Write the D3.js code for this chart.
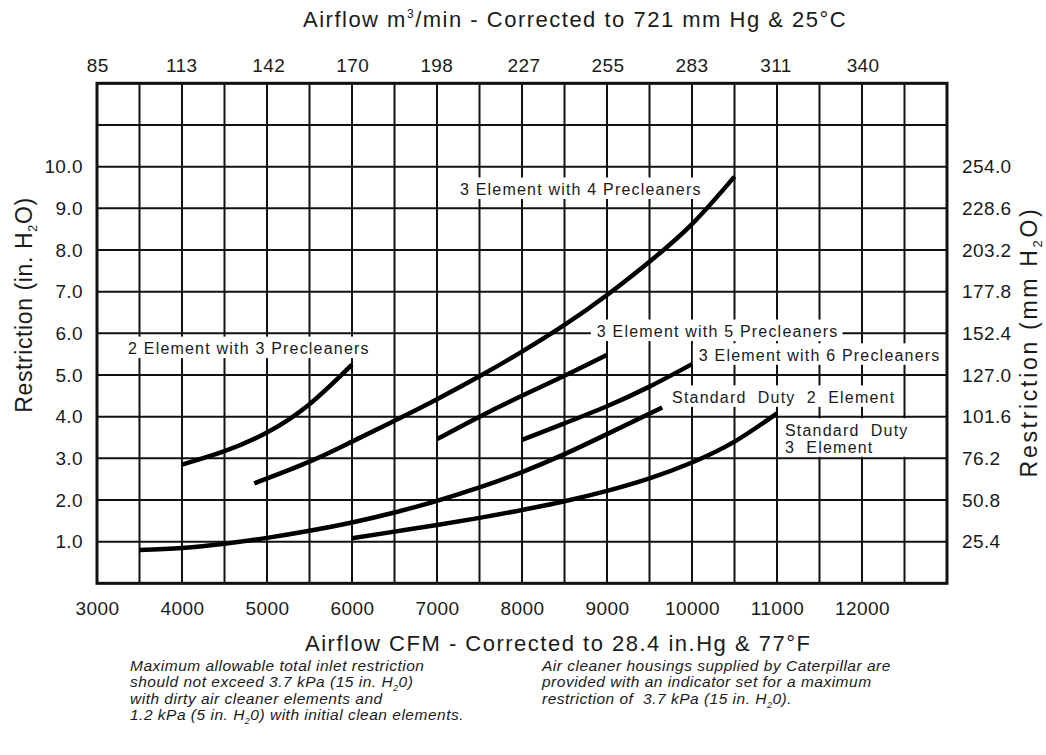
<!DOCTYPE html>
<html>
<head>
<meta charset="utf-8">
<script src="https://cdn.jsdelivr.net/npm/d3@7"></script>
<style>
    body { margin: 0; background: #fff; }
    svg text { font-family: Arial, "Liberation Sans", sans-serif; fill: #1a1a1a; }
</style>
</head>
<body>
<div id="chart"></div>
<script>
// tick labels
const cfmTicks = [3000, 4000, 5000, 6000, 7000, 8000, 9000, 10000, 11000, 12000];
const m3Ticks = [85, 113, 142, 170, 198, 227, 255, 283, 311, 340];
const inTicks = [1, 2, 3, 4, 5, 6, 7, 8, 9, 10];
const mmTicks = [25.4, 50.8, 76.2, 101.6, 127.0, 152.4, 177.8, 203.2, 228.6, 254.0];

// curves: airflow (CFM) / restriction (in. H2O)
const cfm2El3Pre = [4000, 4500, 5000, 5500, 6000];
const in2El3Pre = [2.85, 3.17, 3.62, 4.30, 5.25];

const cfm3El4Pre = [4850, 5500, 6000, 6500, 7000, 7500, 8000, 8500, 9000, 9500, 10000, 10500];
const in3El4Pre = [2.4, 2.92, 3.40, 3.90, 4.42, 4.97, 5.56, 6.20, 6.92, 7.72, 8.62, 9.76];

const cfm3El5Pre = [7000, 7500, 8000, 8500, 9000];
const in3El5Pre = [3.46, 4.0, 4.5, 4.98, 5.48];

const cfm3El6Pre = [8000, 8500, 9000, 9500, 10000];
const in3El6Pre = [3.44, 3.84, 4.25, 4.72, 5.26];

const cfmStd2El = [3500, 4000, 4500, 5000, 5500, 6000, 6500, 7000, 7500, 8000, 8500, 9000, 9650];
const inStd2El = [0.80, 0.85, 0.95, 1.09, 1.26, 1.46, 1.70, 1.98, 2.30, 2.67, 3.10, 3.58, 4.22];

const cfmStd3El = [6000, 6500, 7000, 7500, 8000, 8500, 9000, 9500, 10000, 10500, 11000];
const inStd3El = [1.08, 1.24, 1.40, 1.57, 1.76, 1.97, 2.22, 2.52, 2.90, 3.40, 4.08];

const series = [
    { cfm: cfm2El3Pre, restr: in2El3Pre },
    { cfm: cfm3El4Pre, restr: in3El4Pre },
    { cfm: cfm3El5Pre, restr: in3El5Pre },
    { cfm: cfm3El6Pre, restr: in3El6Pre },
    { cfm: cfmStd2El, restr: inStd2El },
    { cfm: cfmStd3El, restr: inStd3El }
];

// curve labels, placed in chart units (left edge of text, baseline)
const curveLabels = [
    { lines: ["3 Element with 4 Precleaners"], cfm: 7270, restr: 9.32 },
    { lines: ["2 Element with 3 Precleaners"], cfm: 3365, restr: 5.50 },
    { lines: ["3 Element with 5 Precleaners"], cfm: 8880, restr: 5.91 },
    { lines: ["3 Element with 6 Precleaners"], cfm: 10080, restr: 5.34 },
    { lines: ["Standard  Duty  2  Element"], cfm: 9765, restr: 4.33 },
    { lines: ["Standard  Duty", "3  Element"], cfm: 11094, restr: 3.54 }
];

const CFM_TO_M3 = 0.0283168;
const IN_TO_MM = 25.4;

function drawChart() {
    const width = 1046;
    const height = 755;
    const margin = { top: 83, bottom: 172, left: 97, right: 99 };

    const svg = d3.select("#chart")
        .append("svg")
        .attr("width", width)
        .attr("height", height);

    svg.append("rect")
        .attr("width", width)
        .attr("height", height)
        .attr("fill", "#fff");

    const x = d3.scaleLinear()
        .domain([3000, 13000])
        .range([margin.left, width - margin.right]);

    const xM3 = d3.scaleLinear()
        .domain([3000 * CFM_TO_M3, 13000 * CFM_TO_M3])
        .range([margin.left, width - margin.right]);

    const y = d3.scaleLinear()
        .domain([0, 12])
        .range([height - margin.bottom + 0.3, margin.top + 0.3]);

    const yMM = d3.scaleLinear()
        .domain([0, 12 * IN_TO_MM])
        .range(y.range());

    // grid
    const grid = svg.append("g").attr("stroke", "#111").attr("stroke-width", 2);
    grid.selectAll(".vline")
        .data(d3.range(3000, 13001, 500))
        .enter().append("line")
        .attr("x1", d => x(d)).attr("x2", d => x(d))
        .attr("y1", y(0)).attr("y2", y(12));
    grid.selectAll(".hline")
        .data(d3.range(0, 12.5, 1))
        .enter().append("line")
        .attr("x1", x(3000)).attr("x2", x(13000))
        .attr("y1", d => y(d)).attr("y2", d => y(d));

    const boxLayer = svg.append("g");
    const curveLayer = svg.append("g");

    svg.append("rect")
        .attr("x", x(3000))
        .attr("y", y(12))
        .attr("width", x(13000) - x(3000))
        .attr("height", y(0) - y(12))
        .attr("fill", "none")
        .attr("stroke", "#111")
        .attr("stroke-width", 3);

    const line = d3.line()
        .x(d => x(d[0]))
        .y(d => y(d[1]))
        .curve(d3.curveNatural);

    curveLayer.selectAll("path")
        .data(series)
        .enter().append("path")
        .attr("d", s => line(s.cfm.map((c, i) => [c, s.restr[i]])))
        .attr("fill", "none")
        .attr("stroke", "#000")
        .attr("stroke-width", 4.5)
        .attr("stroke-linecap", "butt");

    // curve labels with white boxes that break the grid
    curveLabels.forEach(l => {
        const t = svg.append("text")
            .attr("x", x(l.cfm))
            .attr("y", y(l.restr))
            .style("font-size", "16px")
            .style("letter-spacing", "1.2px")
            .style("white-space", "pre");
        l.lines.forEach((s, i) => {
            t.append("tspan")
                .attr("x", x(l.cfm))
                .attr("dy", i === 0 ? 0 : 17)
                .text(s);
        });
        const bb = t.node().getBBox();
        const top = y(l.restr) - 11.5 - 6;
        const bottom = y(l.restr) + (l.lines.length - 1) * 17 + 4;
        boxLayer.append("rect")
            .attr("x", bb.x - 6)
            .attr("y", top)
            .attr("width", bb.width + 10)
            .attr("height", bottom - top)
            .attr("fill", "#fff");
    });

    // axes
    const styleAxis = (g, size, spacing) => {
        g.select(".domain").remove();
        g.attr("font-family", null).attr("font-size", null);
        g.selectAll("text")
            .style("font-size", size + "px")
            .style("letter-spacing", spacing + "px")
            .attr("fill", "#1a1a1a");
    };

    svg.append("g")
        .attr("transform", `translate(0,${y(0)})`)
        .call(d3.axisBottom(x).tickValues(cfmTicks).tickFormat(d3.format("d")).tickSize(0).tickPadding(18))
        .call(g => styleAxis(g, 19, 0.4));

    svg.append("g")
        .attr("transform", `translate(0,${y(12)})`)
        .call(d3.axisTop(xM3).tickValues(m3Ticks).tickFormat(d3.format("d")).tickSize(0).tickPadding(11))
        .call(g => styleAxis(g, 19, 0.4));

    svg.append("g")
        .attr("transform", `translate(${x(3000)},0)`)
        .call(d3.axisLeft(y).tickValues(inTicks).tickFormat(d3.format(".1f")).tickSize(0).tickPadding(14))
        .call(g => styleAxis(g, 19, 0.4));

    svg.append("g")
        .attr("transform", `translate(${x(13000)},0)`)
        .call(d3.axisRight(yMM).tickValues(mmTicks).tickFormat(d3.format(".1f")).tickSize(0).tickPadding(15))
        .call(g => styleAxis(g, 19, 0.4));

    // titles
    const top = svg.append("text")
        .attr("x", 303).attr("y", 27)
        .style("font-size", "22px")
        .style("letter-spacing", "1.5px");
    top.append("tspan").text("Airflow m");
    top.append("tspan").attr("dy", -9).style("font-size", "12px").text("3");
    top.append("tspan").attr("dy", 9).text("/min - Corrected to 721 mm Hg & 25°C");

    svg.append("text")
        .attr("x", 305).attr("y", 651)
        .style("font-size", "22px")
        .style("letter-spacing", "1.5px")
        .text("Airflow CFM - Corrected to 28.4 in.Hg & 77°F");

    const yTitle = (tx, ty, unit, spacing) => {
        const t = svg.append("text")
            .attr("transform", `translate(${tx},${ty}) rotate(-90)`)
            .attr("text-anchor", "middle")
            .style("font-size", "23px")
            .style("letter-spacing", spacing + "px");
        t.append("tspan").text("Restriction (" + unit + " H");
        t.append("tspan").attr("dy", 5).style("font-size", "13px").text("2");
        t.append("tspan").attr("dy", -5).text("O)");
    };
    yTitle(32, 305, "in.", 0.6);
    yTitle(1037, 342, "mm", 2.7);

    // notes under the chart
    const notes = (tx, lines) => {
        lines.forEach((parts, i) => {
            const t = svg.append("text")
                .attr("x", tx)
                .attr("y", 670.5 + i * 16.5)
                .style("font-size", "15.5px")
                .style("font-style", "italic")
                .style("letter-spacing", "0.5px")
                .style("white-space", "pre");
            parts.forEach((p, j) => {
                if (j % 2 === 1) {
                    t.append("tspan").attr("dy", 4).style("font-size", "9px").text(p);
                } else {
                    t.append("tspan").attr("dy", j === 0 ? 0 : -4).text(p);
                }
            });
        });
    };
    notes(130, [
        ["Maximum allowable total inlet restriction"],
        ["should not exceed 3.7 kPa (15 in. H", "2", "0)"],
        ["with dirty air cleaner elements and"],
        ["1.2 kPa (5 in. H", "2", "0) with initial clean elements."]
    ]);
    notes(542, [
        ["Air cleaner housings supplied by Caterpillar are"],
        ["provided with an indicator set for a maximum"],
        ["restriction of  3.7 kPa (15 in. H", "2", "0)."]
    ]);
}

document.addEventListener("DOMContentLoaded", function () {
    drawChart();
});
</script>
</body>
</html>
